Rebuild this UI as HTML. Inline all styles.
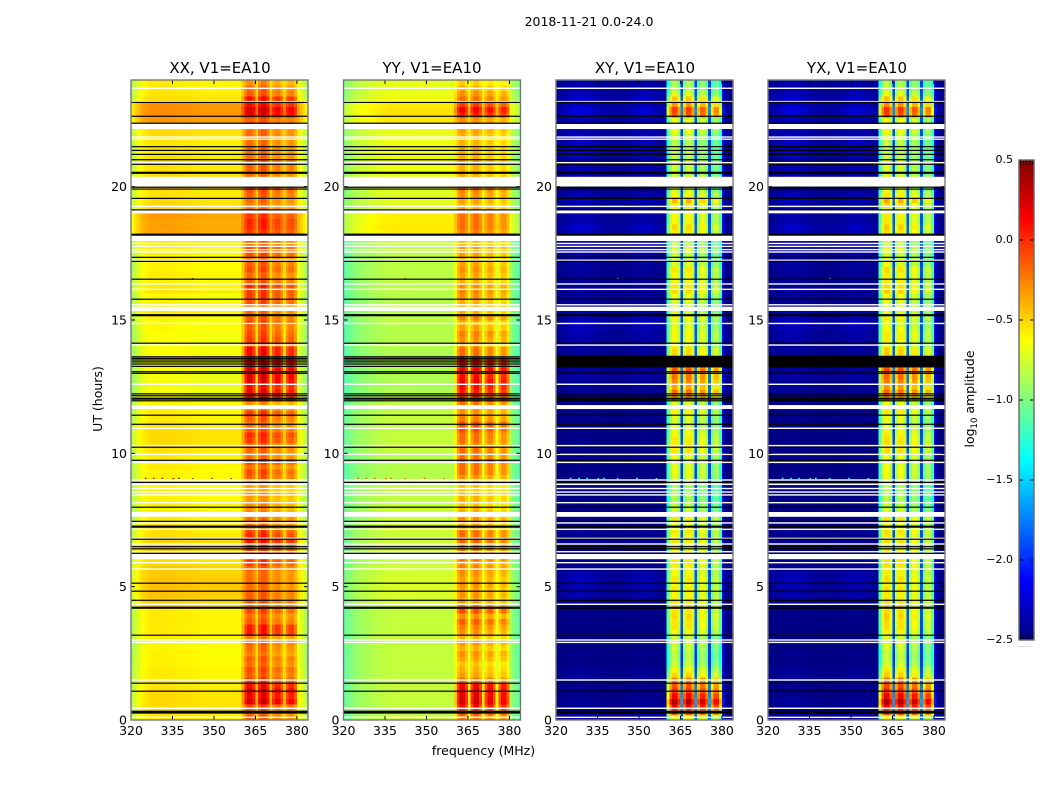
<!DOCTYPE html>
<html lang="en">
<head>
<meta charset="utf-8">
<title>2018-11-21 amplitude waterfall</title>
<style>
html,body{margin:0;padding:0;background:#fff;}
svg{display:block;}
text{font-family:"DejaVu Sans","Liberation Sans",sans-serif;fill:#000;}
.cell{shape-rendering:crispEdges;}
</style>
</head>
<body>
<svg id="chart" xmlns="http://www.w3.org/2000/svg" width="1050" height="800" viewBox="0 0 1050 800">
  <rect width="1050" height="800" fill="#fff"/>
  <text x="589" y="26" font-size="12.5" text-anchor="middle">2018-11-21 0.0-24.0</text>
  <text x="220" y="73" font-size="15" text-anchor="middle">XX, V1=EA10</text>
  <text x="432" y="73" font-size="15" text-anchor="middle">YY, V1=EA10</text>
  <text x="645" y="73" font-size="15" text-anchor="middle">XY, V1=EA10</text>
  <text x="857" y="73" font-size="15" text-anchor="middle">YX, V1=EA10</text>
  <text x="483.5" y="755" font-size="12.5" text-anchor="middle">frequency (MHz)</text>
  <text transform="translate(102,399) rotate(-90)" font-size="12.5" text-anchor="middle">UT (hours)</text>
  <text transform="translate(974,399) rotate(-90)" font-size="12.5" text-anchor="middle">log<tspan font-size="8.5" dy="3">10</tspan><tspan dy="-3"> amplitude</tspan></text>
</svg>
<script>
// ---- axis tick data ----
const freqTicks = [320, 335, 350, 365, 380];
const hourTicks = [0, 5, 10, 15, 20];
const colorTicks = [0.5, 0, -0.5, -1, -1.5, -2, -2.5];
const colorTickLabels = ['0.5', '0.0', '\u22120.5', '\u22121.0', '\u22121.5', '\u22122.0', '\u22122.5'];

// ---- flagged data (hours UT) ----
const blackLines = [23.16,22.64,22.38,21.50,21.36,21.21,21.01,20.84,19.98,19.91,19.56,19.13,17.35,17.20,16.53,15.78,14.13,13.62,13.56,13.50,13.43,13.35,13.26,13.06,13.00,12.23,12.16,11.97,11.43,11.09,10.23,9.74,8.91,7.98,7.45,6.78,6.50,6.42,6.25,5.13,4.83,4.49,3.18,1.38,1.08];
const blackBandStarts = [20.48,18.16,15.14,12.01,7.21,4.17,0.24];
const blackBandEnds = [20.56,18.24,15.22,12.09,7.29,4.25,0.35];
const whiteLines = [23.69,23.19,21.86,21.78,20.90,19.26,17.87,17.76,17.64,17.55,17.24,16.35,16.15,15.57,14.87,14.06,12.59,10.94,10.29,9.96,9.66,9.0,8.68,8.55,8.44,8.15,7.39,7.15,6.81,6.6,6.31,5.9,5.66,4.34,3.0,2.91,1.5,0.44,0.10];
const whiteBandStarts = [22.16,20.0,19.0,17.96,15.34,11.66,8.81,7.62,6.03];
const whiteBandEnds = [22.35,20.37,19.13,18.17,15.5,11.81,8.87,7.8,6.24];
const crossBlackStarts = [13.22];
const crossBlackEnds = [13.66];

// ---- isolated RFI spots ----
const spotHours = [9.06,9.06,9.06,9.05,9.06,9.05,9.06,9.05,18.18,16.55];
const spotFreqs = [325,328,331,335,337,342,349,356,341,342];

// ---- per-channel shapes (64 channels, 320-384 MHz) ----
const copolBandWeight = [0,0,0,0,0,0,0,0,0,0,0,0,0,0,0,0,0,0,0,0,0,0,0,0,0,0,0,0,0,0,0,0,0,0,0,0,0,0,0,0,.3,.8,1,1,.8,.2,.8,1,1,.8,.2,.8,1,1,.8,.2,.8,1,1,.8,0,0,0,0];
const crossBandWeight = [0,0,0,0,0,0,0,0,0,0,0,0,0,0,0,0,0,0,0,0,0,0,0,0,0,0,0,0,0,0,0,0,0,0,0,0,0,0,0,0,.7,.9,1,1,.88,.3,.88,1,1,.88,.3,.88,1,1,.88,.3,.88,1,1,.82,.15,0,0,0];
const xxChannelOffset = [-.25,-.18,-.12,-.06,-.02,0,.02,.03,.03,.03,.03,.04,.04,.04,.03,.03,.03,.02,.02,.02,.02,.02,.01,.01,.01,0,0,0,0,0,0,0,0,0,0,0,0,0,0,0,0,-.07,-.08,-.08,-.08,0,-.04,-.04,-.04,-.06,0,-.16,-.18,-.18,-.2,-.02,-.18,-.2,-.2,-.22,-.03,-.1,-.2,-.28];
const yyChannelOffset = [-.24,-.2,-.16,-.13,-.1,-.08,-.06,-.05,-.04,-.02,-.01,0,.01,.02,.03,.03,.04,.04,.04,.04,.04,.04,.04,.04,.04,.04,.04,.04,.04,.04,.04,.04,.04,.04,.04,.04,.04,.04,.04,.04,.02,-.08,-.08,-.08,-.1,.02,-.08,-.08,-.08,-.1,.02,-.15,-.15,-.15,-.17,.02,-.2,-.2,-.2,-.22,-.06,-.14,-.2,-.26];
const xyChannelOffset = [0,0,0,0,0,0,0,0,0,0,0,0,0,0,0,0,0,0,0,0,0,0,0,0,0,0,0,0,0,0,0,0,0,0,0,0,0,0,0,0,0,0,0,0,0,0,0,0,0,0,0,-.1,-.1,-.1,-.1,0,-.22,-.22,-.22,-.22,0,0,0,0];
const yxChannelOffset = [0,0,0,0,0,0,0,0,0,0,0,0,0,0,0,0,0,0,0,0,0,0,0,0,0,0,0,0,0,0,0,0,0,0,0,0,0,0,0,0,0,.04,.04,.04,.04,0,.02,.02,.02,.02,0,-.08,-.08,-.08,-.08,0,-.2,-.2,-.2,-.2,0,0,0,0];
const crossPatchWeight = [.3,.42,.54,.6,.66,.78,.9,.96,.96,.9,.9,.84,.78,.72,.6,.54,.48,.48,.42,.42,.36,.36,.36,.42,.42,.48,.48,.6,.66,.72,.78,.84,.84,.78,.72,.6,.54,.48,.42,.36,.3,.3,.3,.3,.3,.3,.3,.3,.3,.3,.3,.3,.3,.3,.3,.3,.3,.3,.3,.3,.3,.24,.18,.12];

// ---- per-row levels, log10 amplitude (120 rows of 0.2 h, from 0 h upward) ----
const xxBackground = [
-.58,-.58,-.55,-.55,-.55,-.56,-.58,-.6,-.6,-.6,-.62,-.62,-.62,-.63,-.64,-.6,-.6,-.6,-.6,-.6,
-.6,-.52,-.5,-.48,-.47,-.47,-.48,-.5,-.5,-.55,-.55,-.52,-.52,-.52,-.56,-.58,-.56,-.6,-.6,-.62,
-.6,-.62,-.62,-.62,-.62,-.62,-.62,-.6,-.62,-.6,-.58,-.55,-.55,-.55,-.55,-.57,-.6,-.6,-.62,-.62,
-.66,-.68,-.68,-.68,-.68,-.66,-.68,-.68,-.66,-.66,-.66,-.66,-.66,-.64,-.64,-.62,-.6,-.62,-.62,-.64,
-.58,-.6,-.62,-.6,-.62,-.62,-.6,-.62,-.6,-.58,-.4,-.38,-.37,-.38,-.36,-.52,-.55,-.55,-.57,-.57,
-.55,-.55,-.55,-.57,-.58,-.57,-.58,-.58,-.58,-.55,-.55,-.55,-.35,-.32,-.32,-.33,-.55,-.58,-.6,-.6];
const xxBand = [
-.05,-.1,0,.35,.25,.3,.22,.05,-.05,0,-.1,-.05,-.15,-.1,-.05,-.15,.15,.15,-.05,-.1,
0,-.12,-.05,-.05,-.1,-.1,-.1,-.12,-.05,.05,.1,.05,.1,.2,.1,.05,-.1,-.1,-.15,-.2,
-.2,-.25,-.2,-.25,-.25,-.05,0,-.12,.1,-.1,-.1,-.05,.05,.1,-.05,-.1,-.05,.05,-.1,-.2,
.2,.25,.2,.3,.32,.38,.32,.28,.22,.22,.05,.05,0,-.05,0,-.05,-.1,-.05,0,.05,
.05,.1,-.05,-.1,0,-.05,-.1,0,.05,-.05,0,.05,.1,.12,.05,-.05,-.15,-.1,-.05,0,
0,.05,-.1,-.05,-.05,-.1,-.1,-.1,-.1,-.1,-.1,-.05,-.05,.3,.35,.2,.18,-.05,-.1,-.2];
const yyBackground = [
-.84,-.84,-.84,-.84,-.84,-.84,-.84,-.84,-.84,-.84,-.84,-.84,-.84,-.84,-.84,-.84,-.84,-.84,-.84,-.84,
-.84,-.8,-.8,-.78,-.78,-.78,-.78,-.8,-.8,-.82,-.82,-.82,-.82,-.82,-.82,-.82,-.82,-.82,-.82,-.82,
-.84,-.84,-.84,-.84,-.84,-.88,-.88,-.88,-.88,-.88,-.84,-.84,-.84,-.84,-.84,-.84,-.84,-.84,-.86,-.86,
-.88,-.9,-.9,-.9,-.9,-.9,-.9,-.9,-.9,-.9,-.88,-.88,-.88,-.88,-.88,-.86,-.86,-.86,-.88,-.88,
-.86,-.86,-.86,-.86,-.86,-.86,-.86,-.86,-.86,-.86,-.64,-.62,-.6,-.62,-.62,-.74,-.75,-.75,-.76,-.76,
-.74,-.72,-.72,-.72,-.72,-.72,-.72,-.72,-.72,-.72,-.72,-.7,-.6,-.58,-.58,-.6,-.7,-.72,-.74,-.74];
const yyBand = [
-.1,0,.2,.35,.3,.3,.25,-.1,-.25,-.3,-.35,-.25,-.2,-.3,-.2,-.3,-.2,-.15,-.05,-.2,
0,-.15,-.25,-.2,-.25,-.2,-.25,-.2,-.15,-.2,-.05,-.1,-.15,-.05,-.1,-.1,-.25,-.2,-.3,-.3,
-.35,-.3,-.3,-.35,-.3,-.2,-.1,-.1,-.05,-.1,-.1,-.15,-.1,-.1,0,0,-.15,-.2,-.2,-.1,
.05,.15,.2,.25,.2,.3,.25,.2,-.1,-.1,-.25,-.2,-.15,-.25,-.3,-.15,-.3,-.25,-.3,-.2,
-.15,-.2,-.3,-.25,-.2,-.25,-.3,-.25,-.2,-.3,-.2,-.15,-.1,-.1,-.1,-.2,-.3,-.25,-.2,-.15,
-.2,-.1,-.3,-.3,-.25,-.3,-.3,-.3,-.3,-.3,-.25,-.25,-.2,.15,.25,.05,-.1,-.2,-.3,-.4];
const crossBackground = [
.1,.15,.05,.1,.05,.05,.05,.08,.1,.08,.03,.03,.05,.02,.03,.02,.02,.02,.02,.03,
.03,.05,.12,.15,.15,.18,.2,.15,.05,.05,.05,.08,.1,.05,.05,.1,.05,.05,.05,.05,
.05,.03,.03,.02,.03,.03,.03,.02,.02,.05,.03,.04,.03,.03,.02,.05,.05,.05,.05,.08,
.1,.1,.1,.1,.12,.12,.1,.15,.1,.1,.1,.15,.15,.2,.2,.2,.2,.15,.1,.1,
.1,.08,.1,.08,.1,.1,.1,.12,.1,.1,.15,.2,.25,.15,.15,.1,.12,.2,.15,.1,
.1,.1,.15,.2,.2,.2,.25,.2,.2,.2,.15,.15,.2,.25,.3,.2,.25,.2,.15,.15];
const crossBand = [
-.6,-.1,.15,.35,.15,0,-.1,-.25,-.5,-.6,-.75,-.8,-.8,-.75,-.7,-.75,-.6,-.55,-.55,-.5,
-.55,-.5,-.55,-.6,-.55,-.6,-.55,-.6,-.6,-.55,-.55,-.6,-.6,-.55,-.6,-.55,-.65,-.55,-.7,-.75,
-.8,-.85,-.8,-.85,-.8,-.7,-.65,-.7,-.65,-.65,-.55,-.55,-.55,-.6,-.65,-.7,-.7,-.6,-.6,-.7,
-.35,-.2,-.35,-.25,-.2,-.1,-.2,-.3,-.5,-.5,-.65,-.6,-.6,-.65,-.7,-.6,-.7,-.7,-.7,-.65,
-.5,-.55,-.6,-.6,-.55,-.7,-.75,-.75,-.7,-.8,-.65,-.55,-.5,-.6,-.6,-.65,-.55,-.4,-.6,-.7,
-.65,-.5,-.75,-.75,-.7,-.8,-.8,-.8,-.8,-.75,-.65,-.65,-.65,-.1,-.05,-.3,-.45,-.7,-.8,-.85];

// ---- geometry ----
const plotTop = 80, plotBottom = 720, plotWidth = 177;
const freqMin = 320, freqMax = 384, hourMax = 24;
const rowHours = 0.2, vMin = -2.5, vMax = 0.5;
const cbarLeft = 1019, cbarWidth = 15, cbarTop = 160, cbarBottom = 640;

const panels = [
  {id:'xx', left:131,   floor:0,    background:xxBackground,    band:xxBand,    offset:xxChannelOffset, weight:copolBandWeight, patch:null, cross:false, spot:0.2},
  {id:'yy', left:343.5, floor:0,    background:yyBackground,    band:yyBand,    offset:yyChannelOffset, weight:copolBandWeight, patch:null, cross:false, spot:-0.1},
  {id:'xy', left:556,   floor:-2.5, background:crossBackground, band:crossBand, offset:xyChannelOffset, weight:crossBandWeight, patch:crossPatchWeight, cross:true, spot:-1.3},
  {id:'yx', left:768,   floor:-2.5, background:crossBackground, band:crossBand, offset:yxChannelOffset, weight:crossBandWeight, patch:crossPatchWeight, cross:true, spot:-1.3}
];

// ---- scales ----
function xScale(panel, mhz){ return panel.left + (mhz - freqMin) * plotWidth / (freqMax - freqMin); }
function yScale(hour){ return plotBottom - hour * (plotBottom - plotTop) / hourMax; }
function cbarScale(v){ return cbarBottom - (v - vMin) * (cbarBottom - cbarTop) / (vMax - vMin); }
function clamp01(a){ return Math.max(0, Math.min(1, a)); }
function jet(v){
  const t = clamp01((v - vMin) / (vMax - vMin));
  const r = clamp01(Math.min(4 * t - 1.5, -4 * t + 4.5));
  const g = clamp01(Math.min(4 * t - 0.5, -4 * t + 3.5));
  const b = clamp01(Math.min(4 * t + 0.5, -4 * t + 2.5));
  return 'rgb(' + Math.round(r * 255) + ',' + Math.round(g * 255) + ',' + Math.round(b * 255) + ')';
}

const svg = document.getElementById('chart');
const NS = 'http://www.w3.org/2000/svg';
function make(tag, attrs, parent){
  const el = document.createElementNS(NS, tag);
  for (const k in attrs) el.setAttribute(k, attrs[k]);
  parent.appendChild(el);
  return el;
}

panels.forEach(function(p){
  const g = make('g', {}, svg);
  
  
  const nRows = p.background.length, nCh = p.offset.length;

  // heatmap cells
  for (let r = 0; r < nRows; r++){
    for (let c = 0; c < nCh; c++){
      const w = p.weight[c];
      const patch = p.patch ? p.patch[c] : 1;
      const bg = p.floor + p.background[r] * patch;
      const v = (1 - w) * bg + w * p.band[r] + p.offset[c];
      const x0 = xScale(p, freqMin + c), x1 = xScale(p, freqMin + c + 1);
      const yTop = yScale((r + 1) * rowHours), yBot = yScale(r * rowHours);
      const cell = make('rect', {class:'cell', x:x0.toFixed(2), y:yTop.toFixed(2), width:(x1 - x0 + 0.4).toFixed(2), height:(yBot - yTop + 0.4).toFixed(2), fill:jet(v)}, g);
      
      
    }
  }

  // RFI spots
  spotHours.forEach(function(h, i){
    const spot = make('rect', {x:xScale(p, spotFreqs[i]).toFixed(2), y:(yScale(h) - 0.7).toFixed(2), width:1.6, height:1.4, fill:jet(p.spot)}, g);
    
    
  });

  // flagged rows
  whiteLines.forEach(function(h){
    const line = make('rect', {x:p.left, y:(yScale(h) - 0.7).toFixed(2), width:plotWidth, height:1.4, fill:'#fff'}, g);
    
    
  });
  whiteBandStarts.forEach(function(h, i){
    const band = make('rect', {x:p.left, y:yScale(whiteBandEnds[i]).toFixed(2), width:plotWidth, height:(yScale(h) - yScale(whiteBandEnds[i])).toFixed(2), fill:'#fff'}, g);
    
    
  });
  blackLines.forEach(function(h){
    const line = make('rect', {x:p.left, y:(yScale(h) - 0.6).toFixed(2), width:plotWidth, height:1.2, fill:'#000'}, g);
    
    
  });
  blackBandStarts.forEach(function(h, i){
    const band = make('rect', {x:p.left, y:yScale(blackBandEnds[i]).toFixed(2), width:plotWidth, height:(yScale(h) - yScale(blackBandEnds[i])).toFixed(2), fill:'#000'}, g);
    
    
  });
  if (p.cross){
    crossBlackStarts.forEach(function(h, i){
      const band = make('rect', {x:p.left, y:yScale(crossBlackEnds[i]).toFixed(2), width:plotWidth, height:(yScale(h) - yScale(crossBlackEnds[i])).toFixed(2), fill:'#000'}, g);
      
      
    });
  }

  // ticks and tick labels
  freqTicks.forEach(function(f){
    const x = xScale(p, f);
    const t1 = make('line', {x1:x, x2:x, y1:plotBottom, y2:plotBottom - 4, stroke:'#000', 'stroke-width':1}, g);
    
    
    const t2 = make('line', {x1:x, x2:x, y1:plotTop, y2:plotTop + 4, stroke:'#000', 'stroke-width':1}, g);
    
    
    const lab = make('text', {x:x, y:plotBottom + 15, 'font-size':12.5, 'text-anchor':'middle'}, g);
    lab.textContent = String(f);
    
    
  });
  hourTicks.forEach(function(h){
    const y = yScale(h);
    const t1 = make('line', {x1:p.left, x2:p.left + 4, y1:y, y2:y, stroke:'#000', 'stroke-width':1}, g);
    
    
    const t2 = make('line', {x1:p.left + plotWidth, x2:p.left + plotWidth - 4, y1:y, y2:y, stroke:'#000', 'stroke-width':1}, g);
    
    
    const lab = make('text', {x:p.left - 4, y:y + 4.5, 'font-size':12.5, 'text-anchor':'end'}, g);
    lab.textContent = String(h);
    
    
  });

  const frame = make('rect', {x:p.left, y:plotTop, width:plotWidth, height:plotBottom - plotTop, fill:'none', stroke:'#777', 'stroke-width':1.4}, g);
  
  
});

// colorbar
const cb = make('g', {}, svg);


for (let py = cbarTop; py < cbarBottom; py += 2){
  const seg = make('rect', {class:'cell', x:cbarLeft, y:py, width:cbarWidth, height:2.3, fill:jet(vMax - (py + 1 - cbarTop) * (vMax - vMin) / (cbarBottom - cbarTop))}, cb);
  
  
}
colorTicks.forEach(function(v, i){
  const y = cbarScale(v);
  const l = make('line', {x1:cbarLeft, x2:cbarLeft + 4, y1:y, y2:y, stroke:'#000', 'stroke-width':1}, cb);
  
  
  const r = make('line', {x1:cbarLeft + cbarWidth, x2:cbarLeft + cbarWidth - 4, y1:y, y2:y, stroke:'#000', 'stroke-width':1}, cb);
  
  
  const lab = make('text', {x:cbarLeft - 6, y:y + 3, 'font-size':11, 'text-anchor':'end'}, cb);
  lab.textContent = colorTickLabels[i];
  
  
});
[0, 1, 2, 3, 4].forEach(function(i){
  const x = cbarLeft + 1.5 + i * 3;
  const top = make('line', {x1:x, x2:x, y1:cbarTop, y2:cbarTop + 5, stroke:'#000', 'stroke-width':0.8}, cb);
  
  
  const bot = make('line', {x1:x, x2:x, y1:cbarBottom, y2:cbarBottom - 5, stroke:'#000', 'stroke-width':0.8}, cb);
  
  
  const dot = make('rect', {x:x - 3, y:646, width:1, height:1, fill:'#aaa'}, cb);
  
  
});
const cbFrame = make('rect', {x:cbarLeft, y:cbarTop, width:cbarWidth, height:cbarBottom - cbarTop, fill:'none', stroke:'#666', 'stroke-width':1.4}, cb);


</script>
</body>
</html>
